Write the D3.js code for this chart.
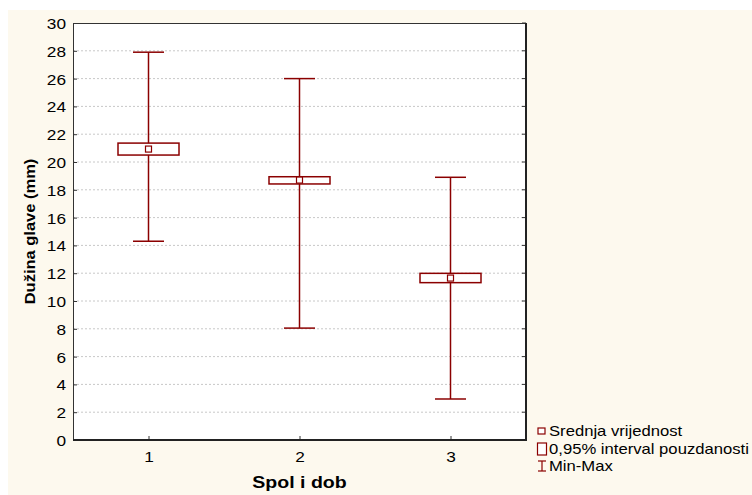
<!DOCTYPE html>
<html>
<head>
<meta charset="utf-8">
<script src="https://cdn.jsdelivr.net/npm/d3@7"></script>
<style>
  html, body { margin: 0; padding: 0; background: #fff; }
  svg { display: block; font-family: "Liberation Sans", Arial, sans-serif; }
</style>
</head>
<body>
<svg id="chart" width="752" height="495"></svg>
<script>
// Groups (Spol i dob) and their summary statistics
const groups   = [1, 2, 3];
const means    = [20.93, 18.70, 11.65];
const ciLow    = [20.50, 18.42, 11.32];
const ciHigh   = [21.36, 18.94, 11.99];
const minVals  = [14.3, 8.05, 2.95];
const maxVals  = [27.9, 26.0, 18.9];
const yTicks   = [0, 2, 4, 6, 8, 10, 12, 14, 16, 18, 20, 22, 24, 26, 28, 30];
const legendLabels = ["Srednja vrijednost", "0,95% interval pouzdanosti", "Min-Max"];

const color = "#8b0000";
const SX = 1.15; // text is drawn slightly wide along its baseline
const svg = d3.select("#chart");

// Cream page panel
svg.append("rect").attr("x", 8).attr("y", 10).attr("width", 744).attr("height", 485)
  .attr("fill", "#fdf9ee");

const L = 73, R = 526, T = 23, B = 440;
const x = d3.scaleLinear().domain([0.5, 3.5]).range([L, R]);
const y = d3.scaleLinear().domain([0, 30]).range([B, T]);

// Plot area
svg.append("rect").attr("x", L).attr("y", T).attr("width", R - L).attr("height", B - T)
  .attr("fill", "#fff");

// Grid lines
svg.append("g").selectAll("line").data(yTicks.filter(d => d > 0 && d < 30)).join("line")
  .attr("x1", L).attr("x2", R)
  .attr("y1", d => y(d)).attr("y2", d => y(d))
  .attr("stroke", "#c8c8c8").attr("stroke-width", 1)
  .attr("stroke-dasharray", "2,2");

// Y axis
const yAxis = svg.append("g").attr("transform", `translate(${L},0)`)
  .call(d3.axisLeft(y).tickValues(yTicks).tickSize(-4).tickFormat(d3.format("d")));
yAxis.select(".domain").remove();
yAxis.selectAll(".tick line").attr("stroke", "#333");
yAxis.selectAll("text")
  .attr("font-size", 15).attr("fill", "#000")
  .attr("x", -7 / SX).attr("dy", "0.36em")
  .attr("transform", `scale(${SX},1)`);

// Right-side inner ticks
svg.append("g").selectAll("line").data(yTicks).join("line")
  .attr("x1", R - 4).attr("x2", R)
  .attr("y1", d => y(d)).attr("y2", d => y(d))
  .attr("stroke", "#333");

// X axis
const xAxis = svg.append("g").attr("transform", `translate(0,${B})`)
  .call(d3.axisBottom(x).tickValues(groups).tickSize(-4).tickFormat(d3.format("d")));
xAxis.select(".domain").remove();
xAxis.selectAll(".tick line").attr("stroke", "#333");
xAxis.selectAll("text")
  .attr("font-size", 15).attr("fill", "#000")
  .attr("y", 11).attr("dy", "0.71em")
  .attr("transform", `scale(${SX},1)`);

// Frame: light top/left, heavier right/bottom
svg.append("line").attr("x1", L).attr("x2", R).attr("y1", T + 0.5).attr("y2", T + 0.5)
  .attr("stroke", "#333").attr("stroke-width", 1);
svg.append("line").attr("x1", L + 0.5).attr("x2", L + 0.5).attr("y1", T).attr("y2", B)
  .attr("stroke", "#333").attr("stroke-width", 1);
svg.append("line").attr("x1", R).attr("x2", R).attr("y1", T).attr("y2", B + 1)
  .attr("stroke", "#222").attr("stroke-width", 2);
svg.append("line").attr("x1", L).attr("x2", R + 1).attr("y1", B).attr("y2", B)
  .attr("stroke", "#222").attr("stroke-width", 2);

// Box-whisker marks
const data = groups.map((g, i) => ({
  g, mean: means[i], lo: ciLow[i], hi: ciHigh[i], min: minVals[i], max: maxVals[i]
}));
const boxW = 61, capW = 31, markS = 6;
const marks = svg.append("g").selectAll("g").data(data).join("g");

marks.append("line")
  .attr("x1", d => x(d.g)).attr("x2", d => x(d.g))
  .attr("y1", d => y(d.max)).attr("y2", d => y(d.min))
  .attr("stroke", color).attr("stroke-width", 1.5);
marks.append("line")
  .attr("x1", d => x(d.g) - capW / 2).attr("x2", d => x(d.g) + capW / 2)
  .attr("y1", d => y(d.max)).attr("y2", d => y(d.max))
  .attr("stroke", color).attr("stroke-width", 1.5);
marks.append("line")
  .attr("x1", d => x(d.g) - capW / 2).attr("x2", d => x(d.g) + capW / 2)
  .attr("y1", d => y(d.min)).attr("y2", d => y(d.min))
  .attr("stroke", color).attr("stroke-width", 1.5);
marks.append("rect")
  .attr("x", d => x(d.g) - boxW / 2).attr("width", boxW)
  .attr("y", d => y(d.hi)).attr("height", d => y(d.lo) - y(d.hi))
  .attr("fill", "#fff").attr("stroke", color).attr("stroke-width", 1.5);
marks.append("rect")
  .attr("x", d => x(d.g) - markS / 2).attr("width", markS)
  .attr("y", d => y(d.mean) - markS / 2).attr("height", markS)
  .attr("fill", "#fff").attr("stroke", color).attr("stroke-width", 1.2);

// Axis titles
svg.append("text")
  .attr("transform", `translate(35,${(T + B) / 2}) rotate(-90) scale(1.1,1)`)
  .attr("text-anchor", "middle")
  .attr("font-size", 15).attr("font-weight", "bold")
  .text("Dužina glave (mm)");
svg.append("text")
  .attr("transform", `translate(${(L + R) / 2},488) scale(${SX},1)`)
  .attr("text-anchor", "middle")
  .attr("font-size", 17).attr("font-weight", "bold")
  .text("Spol i dob");

// Legend
const lg = svg.append("g").attr("transform", "translate(537,0)");
const ly = [431, 449, 466];
lg.append("rect").attr("x", 1).attr("y", ly[0] - 3).attr("width", 7).attr("height", 6)
  .attr("fill", "#fff").attr("stroke", color).attr("stroke-width", 1.2);
lg.append("rect").attr("x", 0.5).attr("y", ly[1] - 6).attr("width", 9).attr("height", 12)
  .attr("fill", "#fff").attr("stroke", color).attr("stroke-width", 1.2);
lg.append("line").attr("x1", 1).attr("x2", 9).attr("y1", ly[2] - 5).attr("y2", ly[2] - 5)
  .attr("stroke", color).attr("stroke-width", 1.2);
lg.append("line").attr("x1", 1).attr("x2", 9).attr("y1", ly[2] + 5).attr("y2", ly[2] + 5)
  .attr("stroke", color).attr("stroke-width", 1.2);
lg.append("line").attr("x1", 5).attr("x2", 5).attr("y1", ly[2] - 5).attr("y2", ly[2] + 5)
  .attr("stroke", color).attr("stroke-width", 1.2);
lg.selectAll("text.lbl").data(legendLabels).join("text")
  .attr("class", "lbl")
  .attr("transform", (d, i) => `translate(12,${ly[i] + 5}) scale(1.19,1)`)
  .attr("font-size", 14)
  .text(d => d);
</script>
</body>
</html>
